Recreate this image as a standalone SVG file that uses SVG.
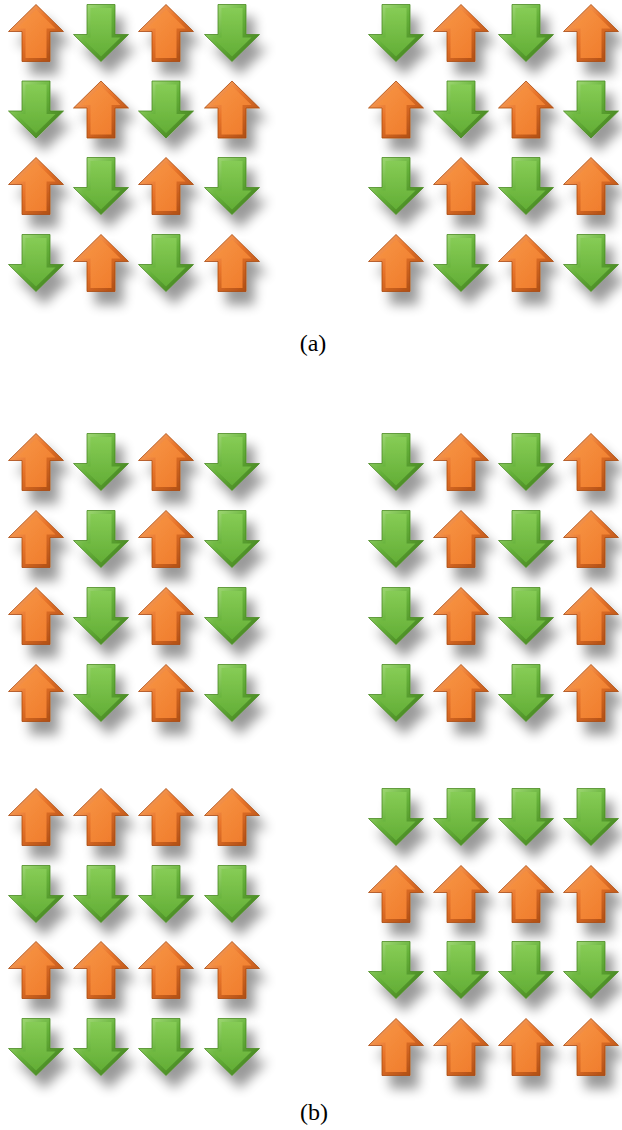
<svg xmlns="http://www.w3.org/2000/svg" xmlns:xlink="http://www.w3.org/1999/xlink" width="622" height="1130" viewBox="0 0 622 1130">
<style>
.lbl{font-family:"Liberation Serif","Times New Roman",serif;font-size:24px;fill:#000;text-anchor:middle}
</style>
<defs>
<filter id="sh" x="-50%" y="-50%" width="210%" height="210%">
<feGaussianBlur in="SourceAlpha" stdDeviation="6" result="b"/>
<feOffset in="b" dx="8" dy="13" result="o"/>
<feComponentTransfer in="o" result="s"><feFuncA type="linear" slope="0.4"/></feComponentTransfer>
<feMerge><feMergeNode in="s"/><feMergeNode in="SourceGraphic"/></feMerge>
</filter>
<linearGradient id="oOut" x1="0" y1="0" x2="1" y2="1">
<stop offset="0" stop-color="#fbb777"/><stop offset="0.45" stop-color="#e9742a"/><stop offset="1" stop-color="#9c430f"/>
</linearGradient>
<linearGradient id="oIn" x1="0" y1="0" x2="1" y2="1">
<stop offset="0" stop-color="#f79545"/><stop offset="1" stop-color="#ef7a2a"/>
</linearGradient>
<linearGradient id="gOut" x1="0" y1="0" x2="1" y2="1">
<stop offset="0" stop-color="#b4e58a"/><stop offset="0.45" stop-color="#66b23a"/><stop offset="1" stop-color="#3b7418"/>
</linearGradient>
<linearGradient id="gIn" x1="0" y1="0" x2="0" y2="1">
<stop offset="0" stop-color="#86cc55"/><stop offset="1" stop-color="#63ae36"/>
</linearGradient>
<g id="up" filter="url(#sh)">
<polygon points="0,-28.5 27.5,-1.5 14,-1.5 14,28.5 -14,28.5 -14,-1.5 -27.5,-1.5" fill="url(#oOut)" stroke="#a8490f" stroke-width="0.8"/>
<polygon points="0,-23.5 19.5,-4.5 10.5,-4.5 10.5,25 -10.5,25 -10.5,-4.5 -19.5,-4.5" fill="url(#oIn)"/>
</g>
<g id="dn" filter="url(#sh)">
<polygon points="0,28.5 27.5,1.5 14,1.5 14,-28.5 -14,-28.5 -14,1.5 -27.5,1.5" fill="url(#gOut)" stroke="#4a8a22" stroke-width="0.8"/>
<polygon points="0,23.5 19.5,4.5 10.5,4.5 10.5,-25 -10.5,-25 -10.5,4.5 -19.5,4.5" fill="url(#gIn)"/>
</g>
</defs>
<rect width="622" height="1130" fill="#fff"/>
<g id="panel-a-left">
<use id="a1" xlink:href="#up" x="36" y="33"/><use id="a2" xlink:href="#dn" x="101" y="33"/><use id="a3" xlink:href="#up" x="166" y="33"/><use id="a4" xlink:href="#dn" x="232" y="33"/>
<use id="a5" xlink:href="#dn" x="36" y="109.5"/><use id="a6" xlink:href="#up" x="101" y="109.5"/><use id="a7" xlink:href="#dn" x="166" y="109.5"/><use id="a8" xlink:href="#up" x="232" y="109.5"/>
<use id="a9" xlink:href="#up" x="36" y="186"/><use id="a10" xlink:href="#dn" x="101" y="186"/><use id="a11" xlink:href="#up" x="166" y="186"/><use id="a12" xlink:href="#dn" x="232" y="186"/>
<use id="a13" xlink:href="#dn" x="36" y="263"/><use id="a14" xlink:href="#up" x="101" y="263"/><use id="a15" xlink:href="#dn" x="166" y="263"/><use id="a16" xlink:href="#up" x="232" y="263"/>
</g>
<g id="panel-a-right">
<use id="b1" xlink:href="#dn" x="396" y="33"/><use id="b2" xlink:href="#up" x="461" y="33"/><use id="b3" xlink:href="#dn" x="526" y="33"/><use id="b4" xlink:href="#up" x="591" y="33"/>
<use id="b5" xlink:href="#up" x="396" y="109.5"/><use id="b6" xlink:href="#dn" x="461" y="109.5"/><use id="b7" xlink:href="#up" x="526" y="109.5"/><use id="b8" xlink:href="#dn" x="591" y="109.5"/>
<use id="b9" xlink:href="#dn" x="396" y="186"/><use id="b10" xlink:href="#up" x="461" y="186"/><use id="b11" xlink:href="#dn" x="526" y="186"/><use id="b12" xlink:href="#up" x="591" y="186"/>
<use id="b13" xlink:href="#up" x="396" y="263"/><use id="b14" xlink:href="#dn" x="461" y="263"/><use id="b15" xlink:href="#up" x="526" y="263"/><use id="b16" xlink:href="#dn" x="591" y="263"/>
</g>
<text id="label-a" class="lbl" x="313" y="351">(a)</text>
<g id="panel-b-top-left">
<use id="c1" xlink:href="#up" x="36" y="462"/><use id="c2" xlink:href="#dn" x="101" y="462"/><use id="c3" xlink:href="#up" x="166" y="462"/><use id="c4" xlink:href="#dn" x="232" y="462"/>
<use id="c5" xlink:href="#up" x="36" y="539"/><use id="c6" xlink:href="#dn" x="101" y="539"/><use id="c7" xlink:href="#up" x="166" y="539"/><use id="c8" xlink:href="#dn" x="232" y="539"/>
<use id="c9" xlink:href="#up" x="36" y="616"/><use id="c10" xlink:href="#dn" x="101" y="616"/><use id="c11" xlink:href="#up" x="166" y="616"/><use id="c12" xlink:href="#dn" x="232" y="616"/>
<use id="c13" xlink:href="#up" x="36" y="693"/><use id="c14" xlink:href="#dn" x="101" y="693"/><use id="c15" xlink:href="#up" x="166" y="693"/><use id="c16" xlink:href="#dn" x="232" y="693"/>
</g>
<g id="panel-b-top-right">
<use id="d1" xlink:href="#dn" x="396" y="462"/><use id="d2" xlink:href="#up" x="461" y="462"/><use id="d3" xlink:href="#dn" x="526" y="462"/><use id="d4" xlink:href="#up" x="591" y="462"/>
<use id="d5" xlink:href="#dn" x="396" y="539"/><use id="d6" xlink:href="#up" x="461" y="539"/><use id="d7" xlink:href="#dn" x="526" y="539"/><use id="d8" xlink:href="#up" x="591" y="539"/>
<use id="d9" xlink:href="#dn" x="396" y="616"/><use id="d10" xlink:href="#up" x="461" y="616"/><use id="d11" xlink:href="#dn" x="526" y="616"/><use id="d12" xlink:href="#up" x="591" y="616"/>
<use id="d13" xlink:href="#dn" x="396" y="693"/><use id="d14" xlink:href="#up" x="461" y="693"/><use id="d15" xlink:href="#dn" x="526" y="693"/><use id="d16" xlink:href="#up" x="591" y="693"/>
</g>
<g id="panel-b-bottom-left">
<use id="e1" xlink:href="#up" x="36" y="817"/><use id="e2" xlink:href="#up" x="101" y="817"/><use id="e3" xlink:href="#up" x="166" y="817"/><use id="e4" xlink:href="#up" x="232" y="817"/>
<use id="e5" xlink:href="#dn" x="36" y="894"/><use id="e6" xlink:href="#dn" x="101" y="894"/><use id="e7" xlink:href="#dn" x="166" y="894"/><use id="e8" xlink:href="#dn" x="232" y="894"/>
<use id="e9" xlink:href="#up" x="36" y="970"/><use id="e10" xlink:href="#up" x="101" y="970"/><use id="e11" xlink:href="#up" x="166" y="970"/><use id="e12" xlink:href="#up" x="232" y="970"/>
<use id="e13" xlink:href="#dn" x="36" y="1047"/><use id="e14" xlink:href="#dn" x="101" y="1047"/><use id="e15" xlink:href="#dn" x="166" y="1047"/><use id="e16" xlink:href="#dn" x="232" y="1047"/>
</g>
<g id="panel-b-bottom-right">
<use id="f1" xlink:href="#dn" x="396" y="817"/><use id="f2" xlink:href="#dn" x="461" y="817"/><use id="f3" xlink:href="#dn" x="526" y="817"/><use id="f4" xlink:href="#dn" x="591" y="817"/>
<use id="f5" xlink:href="#up" x="396" y="894"/><use id="f6" xlink:href="#up" x="461" y="894"/><use id="f7" xlink:href="#up" x="526" y="894"/><use id="f8" xlink:href="#up" x="591" y="894"/>
<use id="f9" xlink:href="#dn" x="396" y="970"/><use id="f10" xlink:href="#dn" x="461" y="970"/><use id="f11" xlink:href="#dn" x="526" y="970"/><use id="f12" xlink:href="#dn" x="591" y="970"/>
<use id="f13" xlink:href="#up" x="396" y="1047"/><use id="f14" xlink:href="#up" x="461" y="1047"/><use id="f15" xlink:href="#up" x="526" y="1047"/><use id="f16" xlink:href="#up" x="591" y="1047"/>
</g>
<text id="label-b" class="lbl" x="314" y="1120">(b)</text>
</svg>
